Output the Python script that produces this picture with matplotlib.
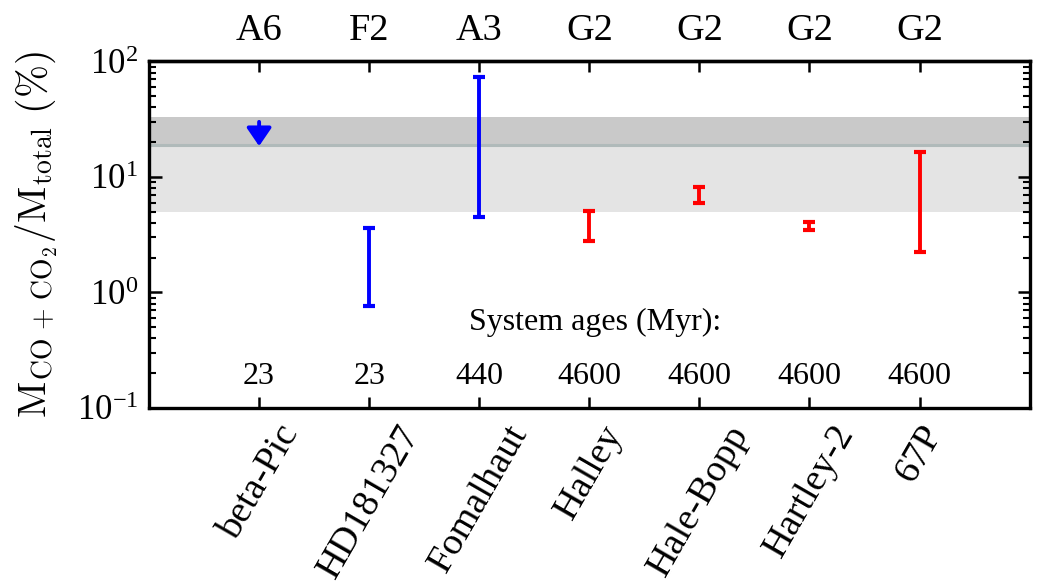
import matplotlib
matplotlib.use("Agg")
import matplotlib.pyplot as plt
import numpy as np

# ---- data ----
names = ['beta-Pic', 'HD181327', 'Fomalhaut', 'Halley', 'Hale-Bopp', 'Hartley-2', '67P']
spectral = ['A6', 'F2', 'A3', 'G2', 'G2', 'G2', 'G2']
ages = ['23', '23', '440', '4600', '4600', '4600', '4600']
lower = [np.nan, 0.77, 4.47, 2.77, 5.95, 3.5, 2.22]
upper = [np.nan, 3.6, 74.0, 5.1, 8.2, 4.1, 16.3]
colors = ['blue', 'blue', 'blue', 'red', 'red', 'red', 'red']
betapic_limit = 30.0
betapic_arrow_tip = 18.5
band_light = (5.0, 19.0)
band_dark = (19.0, 33.0)
band_line = 19.0

plt.rcParams['font.family'] = ['Liberation Serif', 'DejaVu Serif']
plt.rcParams['mathtext.fontset'] = 'custom'
plt.rcParams['mathtext.rm'] = 'Liberation Serif'
plt.rcParams['mathtext.it'] = 'Liberation Serif:italic'
plt.rcParams['mathtext.bf'] = 'Liberation Serif:bold'

fig = plt.figure(figsize=(10.4, 5.85), dpi=100)
ax = fig.add_axes([0.1433, 0.3026, 0.8467, 0.5923])

x = np.arange(1, len(names) + 1)

ax.axhspan(*band_light, color='#e4e4e4', lw=0, zorder=0)
ax.axhspan(*band_dark, color='#c9c9c9', lw=0, zorder=0)
ax.axhline(band_line, color='#b0baba', lw=2.2, zorder=1)

for xi, lo, hi, c in zip(x, lower, upper, colors):
    if np.isnan(lo):
        continue
    mid = np.sqrt(lo * hi)
    ax.errorbar([xi], [mid], yerr=[[mid - lo], [hi - mid]], fmt='none',
                ecolor=c, elinewidth=2.8, capsize=4.3, capthick=3.0, zorder=3)

# upper limit arrow for beta-Pic
ax.annotate('', xy=(x[0], betapic_arrow_tip), xytext=(x[0], betapic_limit),
            arrowprops=dict(arrowstyle='-|>,head_length=1.1,head_width=0.75',
                            color=colors[0], lw=2.8, shrinkA=0, shrinkB=0,
                            mutation_scale=10),
            zorder=3)

ax.set_yscale('log')
ax.set_ylim(0.1, 100)
ax.set_xlim(0, 8)
ax.set_xticks(x)
ax.set_xticklabels(names, rotation=60, fontsize=27.5)

ax.text(4.05, 0.55, 'System ages (Myr):', ha='center', va='center', fontsize=23)
for xi, a in zip(x, ages):
    ax.text(xi, 0.186, a, ha='center', va='center', fontsize=23)

ax.set_ylabel(r'$\mathrm{M_{CO\,+\,CO_2}/M_{total}\ (\%)}$', fontsize=28.5,
              labelpad=12, math_fontfamily='cm')

for s in ax.spines.values():
    s.set_linewidth(2.4)

ax.tick_params(axis='y', which='major', direction='in', length=9, width=1.8,
               labelsize=25, left=True, right=True, pad=8)
ax.tick_params(axis='y', which='minor', direction='in', length=5, width=1.5,
               left=True, right=True)
ax.tick_params(axis='x', which='major', direction='in', length=8, width=1.8,
               bottom=True, top=False, pad=8)
ax.tick_params(axis='x', which='minor', bottom=False, top=False)

sec = ax.secondary_xaxis('top')
sec.set_xticks(x)
sec.set_xticklabels(spectral, fontsize=27.5)
sec.tick_params(direction='in', length=8, width=1.8, pad=10)
sec.spines['top'].set_linewidth(2.4)

fig.savefig('out.png', dpi=100)
